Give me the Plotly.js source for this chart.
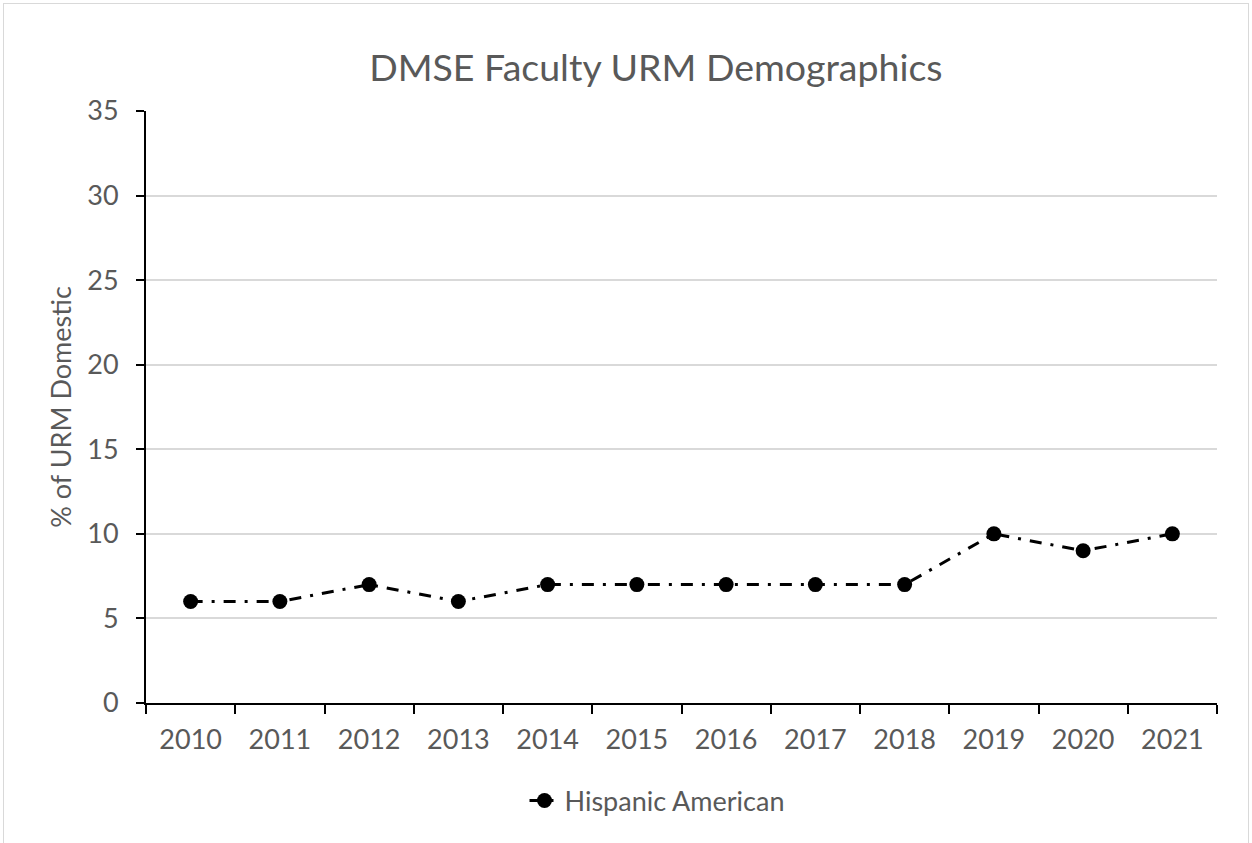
<!DOCTYPE html>
<html>
<head>
<meta charset="utf-8">
<script src="https://cdn.plot.ly/plotly-3.0.1.min.js"></script>
<style>
  body { margin: 0; background: #fff; overflow: hidden; }
  #frame { position: absolute; left: 3px; top: 3px; width: 1246px; height: 850px; border: 1px solid #d9d9d9; box-sizing: border-box; }
</style>
</head>
<body>
<div id="frame"><div id="chart"></div></div>
<script>
// DMSE Faculty URM Demographics
const years = ["2010", "2011", "2012", "2013", "2014", "2015", "2016", "2017", "2018", "2019", "2020", "2021"];
const hispanicAmerican = [6, 6, 7, 6, 7, 7, 7, 7, 7, 10, 9, 10];
const yTicks = [0, 5, 10, 15, 20, 25, 30, 35];

const hispanicTrace = {
  x: years,
  y: hispanicAmerican,
  name: "Hispanic American",
  type: "scatter",
  mode: "lines+markers",
  line: { color: "#000000", width: 3, dash: "12px,9px,3px,9px" },
  marker: { color: "#000000", size: 15 },
};

const layout = {
  width: 1244,
  height: 848,
  margin: { t: 107, r: 31, b: 149, l: 142 },
  paper_bgcolor: "#ffffff",
  plot_bgcolor: "#ffffff",
  font: { family: "Lato, sans-serif", color: "#595959", size: 27 },
  title: {
    text: "DMSE Faculty URM Demographics",
    font: { size: 37.5, color: "#595959" },
    xref: "container",
    x: 0.524,
    xanchor: "center",
    yref: "container",
    y: 1 - 64 / 848,
    yanchor: "middle",
  },
  xaxis: {
    type: "category",
    range: [-0.5, years.length - 0.5],
    tickson: "boundaries",
    ticks: "outside",
    ticklen: 9,
    tickwidth: 2,
    tickcolor: "#000000",
    ticklabelstandoff: 12,
    showline: true,
    linecolor: "#000000",
    linewidth: 2,
    showgrid: false,
    tickfont: { size: 27, color: "#595959" },
  },
  yaxis: {
    range: [0, 35],
    tickvals: yTicks,
    ticks: "outside",
    ticklen: 8,
    tickwidth: 2,
    tickcolor: "#000000",
    ticklabelstandoff: 12,
    showline: true,
    linecolor: "#000000",
    linewidth: 2,
    showgrid: true,
    gridcolor: "#d9d9d9",
    gridwidth: 2,
    zeroline: false,
    tickfont: { size: 27, color: "#595959" },
    title: { text: "% of URM Domestic", font: { size: 27, color: "#595959" }, standoff: 8 },
  },
  showlegend: true,
  legend: {
    orientation: "h",
    xref: "container",
    x: 653 / 1244,
    xanchor: "center",
    yref: "container",
    y: 1 - 797 / 848,
    yanchor: "middle",
    font: { size: 27, color: "#595959" },
  },
};

Plotly.newPlot("chart", [hispanicTrace], layout, { displayModeBar: false });
</script>
</body>
</html>
